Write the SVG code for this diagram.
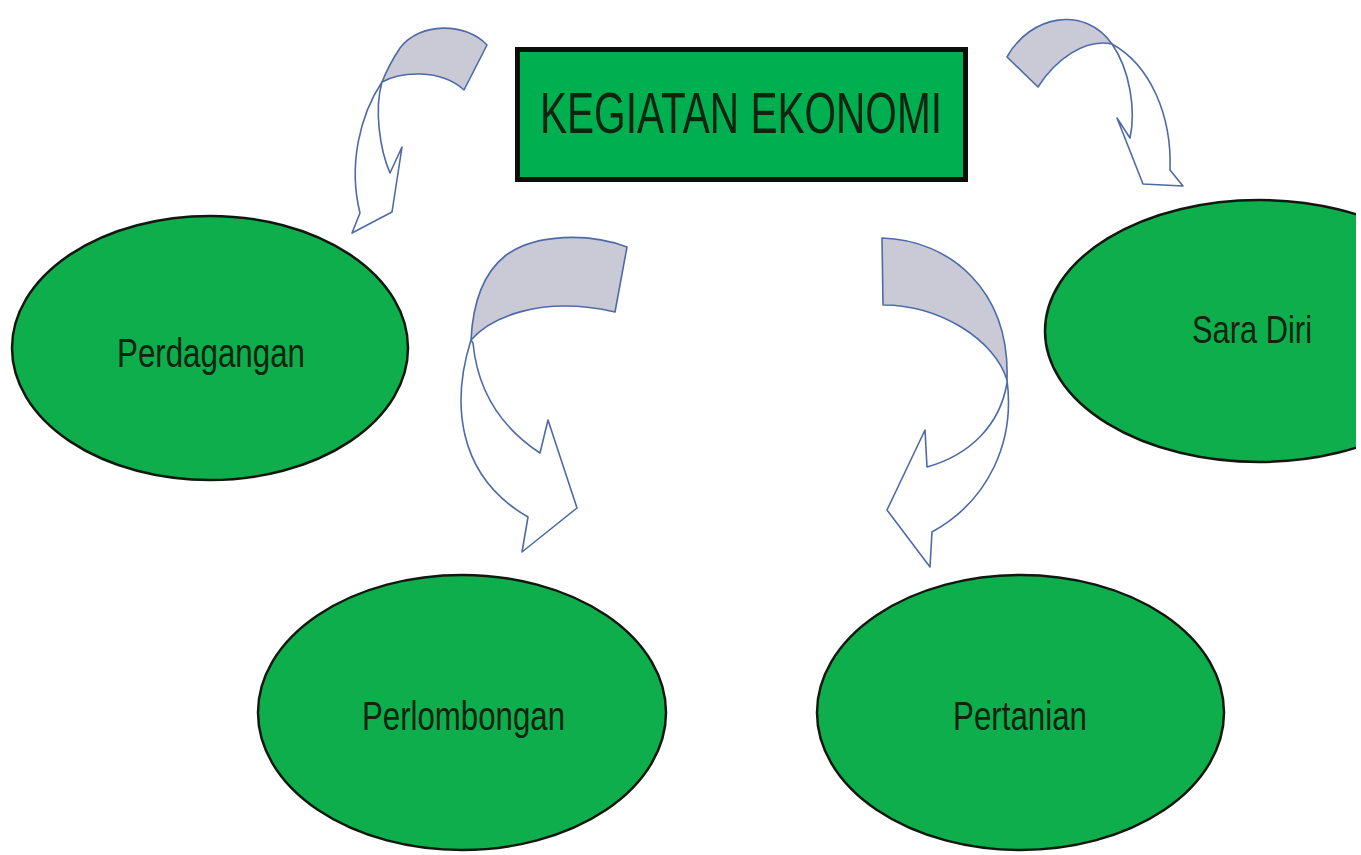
<svg xmlns="http://www.w3.org/2000/svg" width="1361" height="855" viewBox="0 0 1361 855">
<style>
.node{fill:#0fae4c;stroke:#101810;stroke-width:2.5}
.lbl{font-family:"Liberation Sans",Arial,sans-serif;fill:#0c2410;text-anchor:start}
.band{fill:#c9cad6;stroke:#4e6aa8;stroke-width:1.6;stroke-linejoin:round}
.body{fill:#ffffff;stroke:#4e6aa8;stroke-width:1.6;stroke-linejoin:round}
</style>
<defs>
<clipPath id="clipR"><rect x="0" y="0" width="1356" height="855"/></clipPath>
</defs>
<rect width="1361" height="855" fill="#ffffff"/>
<g id="connectors">
<g id="arrow-perdagangan">
<path class="body" d="M382,82 C360,115 348,165 360,213 L352,233 L392,212 L402,147 L390,173 C380,150 374,110 382,82 Z"/>
<path class="band" d="M487,45 C465,22 420,22 400,48 C392,60 386,72 382,82 C400,72 440,68 464,90 Z"/>
</g>
<g id="arrow-saradiri">
<path class="body" d="M1112,44 C1150,65 1172,115 1170,170 L1183,186 L1143,184 L1117,118 L1130,138 C1136,110 1130,70 1112,44 Z"/>
<path class="band" d="M1007,57 C1030,15 1085,5 1112,44 C1085,38 1055,60 1038,87 Z"/>
</g>
<g id="arrow-perlombongan">
<path class="body" d="M471,340 C452,400 455,475 528,517 L522,552 L577,508 L548,420 L540,453 C505,430 478,395 473,343 Z"/>
<path class="band" d="M627,247 C590,233 535,233 505,256 C485,272 473,300 471,340 C490,318 540,295 615,312 Z"/>
</g>
<g id="arrow-pertanian">
<path class="body" d="M1007,380 C1015,440 990,500 932,532 L930,567 L887,510 L925,430 L927,467 C970,455 1000,425 1007,383 Z"/>
<path class="band" d="M882,238 C950,240 1010,290 1007,380 C995,340 940,305 883,305 Z"/>
</g>
</g>
<g id="node-kegiatan">
<rect x="517.5" y="49.5" width="448" height="130" fill="#00b050" stroke="#0a0f0a" stroke-width="5"/>
<text class="lbl" x="540" y="133" font-size="57" textLength="402" lengthAdjust="spacingAndGlyphs">KEGIATAN EKONOMI</text>
</g>
<g id="node-perdagangan">
<ellipse class="node" cx="210" cy="348" rx="198" ry="132"/>
<text class="lbl" x="117" y="367" font-size="41" textLength="188" lengthAdjust="spacingAndGlyphs">Perdagangan</text>
</g>
<g id="node-saradiri" clip-path="url(#clipR)">
<ellipse class="node" cx="1259" cy="331" rx="214" ry="131"/>
<text class="lbl" x="1192" y="343" font-size="39" textLength="120" lengthAdjust="spacingAndGlyphs">Sara Diri</text>
</g>
<g id="node-perlombongan">
<ellipse class="node" cx="462" cy="712.5" rx="204" ry="137.5"/>
<text class="lbl" x="362" y="730" font-size="41" textLength="203" lengthAdjust="spacingAndGlyphs">Perlombongan</text>
</g>
<g id="node-pertanian">
<ellipse class="node" cx="1020.5" cy="712.5" rx="203.5" ry="137.5"/>
<text class="lbl" x="953" y="730" font-size="41" textLength="134" lengthAdjust="spacingAndGlyphs">Pertanian</text>
</g>
</svg>
